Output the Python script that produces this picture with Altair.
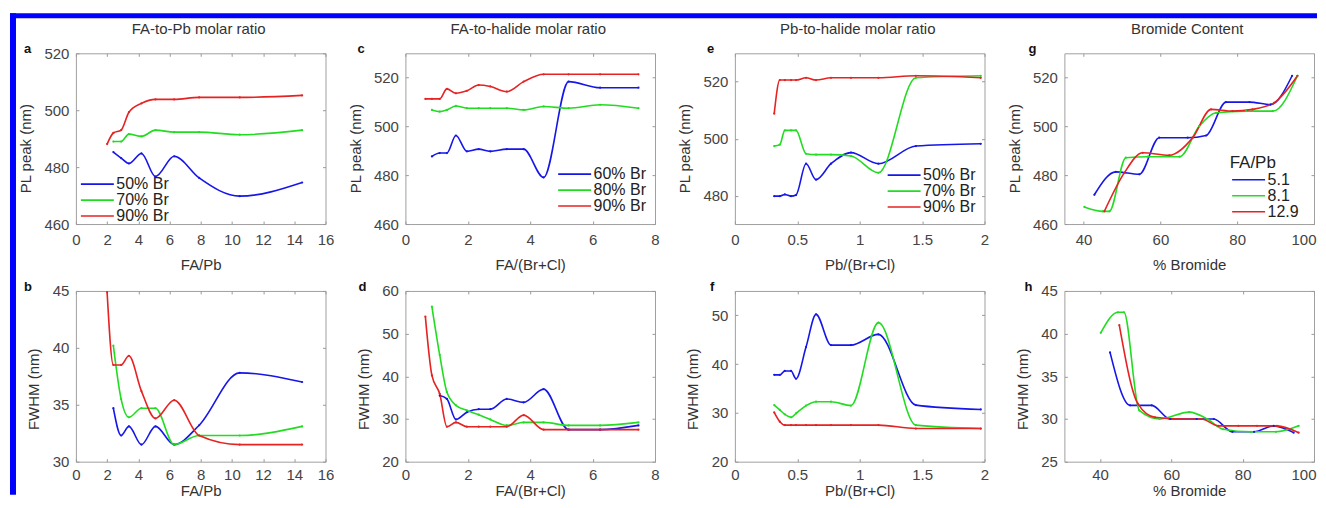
import altair as alt
import pandas as pd

FONT = "Liberation Sans"
BLUE, GREEN, RED = "#1616e8", "#22dc22", "#e62222"
W, H = 250, 171

# ---- Panels a / b : FA/Pb ----
ab_x_red = [2.0, 2.4, 2.9, 3.4, 4.2, 5.1, 6.3, 7.9, 10.5, 14.5]
ab_x = [2.4, 2.9, 3.4, 4.2, 5.1, 6.3, 7.9, 10.5, 14.5]
a_pl_50 = [485.3, 483.2, 481.3, 484.8, 476.7, 483.8, 476.2, 469.8, 474.6]
a_pl_70 = [489.0, 489.0, 491.6, 490.8, 493.0, 492.3, 492.3, 491.4, 493.0]
a_pl_90 = [488.1, 492.0, 493.0, 499.3, 502.4, 503.8, 503.8, 504.5, 504.5, 505.2]
b_fw_50 = [34.7, 32.3, 33.1, 31.5, 33.1, 31.5, 33.2, 37.8, 37.0]
b_fw_70 = [40.2, 35.5, 33.9, 34.7, 34.7, 31.5, 32.3, 32.3, 33.1]
b_fw_90 = [44.9, 38.5, 38.5, 39.3, 36.2, 33.8, 35.4, 32.3, 31.5, 31.5]

# ---- Panels c / d : FA/(Br+Cl) ----
cd_x_red = [0.64, 0.85, 1.1, 1.33, 1.62, 1.97, 2.35, 2.72, 3.25, 3.79, 4.43, 5.23, 6.24, 7.47]
cd_x = [0.85, 1.1, 1.33, 1.62, 1.97, 2.35, 2.72, 3.25, 3.79, 4.43, 5.23, 6.24, 7.47]
d_x_60 = [1.1, 1.33, 1.62, 1.97, 2.35, 2.72, 3.25, 3.79, 4.43, 5.23, 6.24, 7.47]
c_pl_60 = [487.7, 489.1, 489.1, 496.3, 489.8, 490.7, 489.8, 490.7, 490.7, 479.1, 518.4, 515.9, 515.9]
c_pl_80 = [506.8, 506.1, 506.8, 508.4, 507.5, 507.5, 507.5, 507.5, 506.8, 508.2, 507.5, 508.9, 507.5]
c_pl_90 = [511.3, 511.3, 511.3, 515.4, 513.6, 514.6, 517.0, 516.4, 514.3, 518.4, 521.4, 521.4, 521.4, 521.4]
d_fw_60 = [35.5, 34.7, 29.9, 31.6, 32.3, 32.3, 34.7, 33.9, 37.0, 27.5, 27.5, 28.5]
d_fw_80 = [56.3, 45.0, 36.3, 33.2, 32.0, 31.0, 29.9, 28.5, 29.2, 29.2, 28.5, 28.5, 29.2]
d_fw_90 = [54.0, 40.2, 35.9, 28.2, 29.2, 28.2, 28.2, 28.2, 28.2, 30.9, 27.5, 27.5, 27.5, 27.5]

# ---- Panels e / f : Pb/(Br+Cl) ----
ef_x = [0.315, 0.36, 0.4, 0.45, 0.49, 0.57, 0.65, 0.77, 0.93, 1.15, 1.45, 1.97]
e_pl_50 = [479.8, 479.8, 480.4, 479.8, 480.2, 491.2, 485.6, 491.2, 495.1, 491.2, 497.4, 498.2]
e_pl_70 = [497.4, 497.9, 502.9, 502.9, 502.9, 494.7, 494.4, 494.4, 493.9, 488.0, 521.4, 522.1]
e_pl_90 = [508.8, 520.6, 520.6, 520.6, 520.6, 521.4, 520.6, 521.4, 521.4, 521.4, 522.1, 521.4]
f_fw_50 = [37.8, 37.8, 38.6, 38.6, 37.0, 43.5, 50.2, 43.9, 43.9, 46.1, 31.6, 30.7]
f_fw_70 = [31.6, 30.6, 29.7, 29.1, 29.9, 31.5, 32.3, 32.3, 31.5, 48.5, 27.5, 26.8]
f_fw_90 = [30.1, 28.2, 27.5, 27.5, 27.5, 27.5, 27.5, 27.5, 27.5, 27.5, 26.8, 26.8]

# ---- Panels g / h : % Bromide ----
gh_x_51 = [42.8, 48.4, 54.5, 59.7, 67.1, 71.9, 77.1, 83.2, 88.7, 94.3]
gh_x_81 = [40.2, 45.0, 46.7, 51.0, 56.7, 65.0, 70.1, 74.5, 82.3, 89.3, 95.7]
gh_x_129 = [45.4, 50.6, 55.4, 62.3, 68.4, 73.2, 78.8, 84.0, 89.6, 95.7]
g_pl_51 = [472.0, 481.4, 480.4, 495.4, 495.4, 496.3, 510.0, 510.0, 509.0, 520.8]
g_pl_81 = [467.0, 465.2, 465.2, 487.2, 487.6, 487.6, 500.1, 505.6, 506.3, 506.3, 520.8]
g_pl_129 = [465.2, 481.0, 489.2, 488.2, 495.4, 507.0, 506.3, 507.0, 509.7, 520.8]
h_fw_51 = [37.8, 31.6, 31.6, 30.0, 30.0, 30.0, 28.5, 28.5, 29.2, 28.4]
h_fw_81 = [40.1, 42.5, 42.5, 31.0, 30.0, 30.8, 30.0, 28.8, 28.5, 28.5, 29.2]
h_fw_129 = [41.0, 31.8, 30.2, 30.0, 30.0, 29.2, 29.2, 29.2, 29.2, 28.4]

names_a = ["50% Br", "70% Br", "90% Br"]
names_c = ["60% Br", "80% Br", "90% Br"]
names_g = ["5.1", "8.1", "12.9"]
colors = [BLUE, GREEN, RED]

headers = ["FA-to-Pb molar ratio", "FA-to-halide molar ratio",
           "Pb-to-halide molar ratio", "Bromide Content"]


def make_df(series):
    rows = []
    for name, xs, ys in series:
        for xv, yv in zip(xs, ys):
            rows.append({"x": xv, "y": yv, "s": name})
    return pd.DataFrame(rows)


def text_layer(txt, dx, dy, size, weight, align, color):
    return alt.Chart(pd.DataFrame({"t": [txt]})).mark_text(
        fontSize=size, fontWeight=weight, align=align, baseline="alphabetic",
        color=color, font=FONT
    ).encode(text="t:N", x=alt.value(dx), y=alt.value(dy))


def make_legend(lx, ly, title=None):
    kw = dict(orient="none", legendX=lx, legendY=ly, symbolType="M-1,0H5",
              symbolSize=121, symbolStrokeWidth=1.6, labelFontSize=16,
              labelOffset=22, rowPadding=0, padding=0,
              labelColor="#222222", labelFont=FONT)
    if title is None:
        kw["title"] = None
    else:
        kw.update(title=title, titleFontSize=17, titleFontWeight="normal",
                  titlePadding=0, titleColor="#222222", titleFont=FONT)
    return alt.Legend(**kw)


def panel(series, names, xdom, xticks, ydom, yticks, xtitle, ytitle,
          letter, letter_dx, top, header=None, legend=None, frame=False,
          xfmt=None, flush_end=False):
    df = make_df(series)
    base = alt.Chart(df)
    xkw = dict(values=xticks, title=xtitle, titleY=41 if top else 29,
               labelPadding=8 if top else 6)
    if xfmt:
        xkw["format"] = xfmt
    if flush_end:
        xkw.update(labelFlush=1, labelFlushOffset=2)
    xaxis = alt.Axis(**xkw)
    yaxis = alt.Axis(values=yticks, title=ytitle,
                     titleX=-50 if top else -42, titleY=95 if top else 98)
    x = alt.X("x:Q", scale=alt.Scale(domain=xdom, nice=False, zero=False), axis=xaxis)
    y = alt.Y("y:Q", scale=alt.Scale(domain=ydom, nice=False, zero=False), axis=yaxis)
    cscale = alt.Scale(domain=names, range=colors)
    line = base.mark_line(interpolate="monotone", strokeWidth=1.6).encode(
        x=x, y=y,
        color=alt.Color("s:N", scale=cscale, sort=names,
                        legend=legend if legend is not None else None))
    pts = base.mark_circle(size=5, opacity=1).encode(
        x=x, y=y, color=alt.Color("s:N", scale=cscale, sort=names, legend=None))
    layers = [line, pts,
              text_layer(letter, letter_dx, 0, 13, "bold", "left", "#111111")]
    if header:
        layers.append(text_layer(header, W / 2 - 2, -19, 15, "normal", "center", "#333333"))
    if frame:
        one = pd.DataFrame({"k": [0]})
        layers.append(alt.Chart(one).mark_rect(color="#0000ff").encode(
            x=alt.value(-66), x2=alt.value(1243), y=alt.value(-40), y2=alt.value(-35)))
        layers.append(alt.Chart(one).mark_rect(color="#0000ff").encode(
            x=alt.value(-66), x2=alt.value(-60), y=alt.value(-40), y2=alt.value(442)))
    return alt.layer(*layers).properties(width=W, height=H)


pa = panel([(names_a[0], ab_x, a_pl_50), (names_a[1], ab_x, a_pl_70), (names_a[2], ab_x_red, a_pl_90)],
           names_a, [0, 16], list(range(0, 17, 2)), [460, 520], [460, 480, 500, 520],
           "FA/Pb", "PL peak (nm)", "a", -52, True, headers[0],
           legend=make_legend(2.5, 123), frame=True)
pb = panel([(names_a[0], ab_x, b_fw_50), (names_a[1], ab_x, b_fw_70), (names_a[2], ab_x_red, b_fw_90)],
           names_a, [0, 16], list(range(0, 17, 2)), [30, 45], [30, 35, 40, 45],
           "FA/Pb", "FWHM (nm)", "b", -52, False)
pc = panel([(names_c[0], cd_x, c_pl_60), (names_c[1], cd_x, c_pl_80), (names_c[2], cd_x_red, c_pl_90)],
           names_c, [0, 8], [0, 2, 4, 6, 8], [460, 530], [460, 480, 500, 520],
           "FA/(Br+Cl)", "PL peak (nm)", "c", -48, True, headers[1],
           legend=make_legend(150.5, 113))
pd_ = panel([(names_c[0], d_x_60, d_fw_60), (names_c[1], cd_x, d_fw_80), (names_c[2], cd_x_red, d_fw_90)],
            names_c, [0, 8], [0, 2, 4, 6, 8], [20, 60], [20, 30, 40, 50, 60],
            "FA/(Br+Cl)", "FWHM (nm)", "d", -47, False)
pe = panel([(names_a[0], ef_x, e_pl_50), (names_a[1], ef_x, e_pl_70), (names_a[2], ef_x, e_pl_90)],
           names_a, [0, 2], [0, 0.5, 1, 1.5, 2], [470, 530], [480, 500, 520],
           "Pb/(Br+Cl)", "PL peak (nm)", "e", -28, True, headers[2],
           legend=make_legend(150.5, 114), xfmt=".1~f")
pf = panel([(names_a[0], ef_x, f_fw_50), (names_a[1], ef_x, f_fw_70), (names_a[2], ef_x, f_fw_90)],
           names_a, [0, 2], [0, 0.5, 1, 1.5, 2], [20, 55], [20, 30, 40, 50],
           "Pb/(Br+Cl)", "FWHM (nm)", "f", -25, False, xfmt=".1~f")
pg = panel([(names_g[0], gh_x_51, g_pl_51), (names_g[1], gh_x_81, g_pl_81), (names_g[2], gh_x_129, g_pl_129)],
           names_g, [35, 100], [40, 60, 80, 100], [460, 530], [460, 480, 500, 520],
           "% Bromide", "PL peak (nm)", "g", -36, True, headers[3],
           legend=make_legend(165.5, 101.7, title="FA/Pb"), flush_end=True)
ph = panel([(names_g[0], gh_x_51, h_fw_51), (names_g[1], gh_x_81, h_fw_81), (names_g[2], gh_x_129, h_fw_129)],
           names_g, [30, 100], [40, 60, 80, 100], [25, 45], [25, 30, 35, 40, 45],
           "% Bromide", "FWHM (nm)", "h", -40, False, flush_end=True)

chart = alt.concat(pa, pc, pe, pg, pb, pd_, pf, ph, columns=4,
                   spacing={"row": 67, "column": 80}, bounds="flush").resolve_scale(
    x="independent", y="independent", color="independent"
).resolve_legend(color="independent").properties(
    padding={"left": 1, "top": 4, "right": 0, "bottom": -1.5}
).configure(font=FONT).configure_view(
    stroke="#a0a0a0", strokeWidth=1
).configure_axis(
    domain=False, ticks=False, grid=True, gridColor="#9a9a9a", gridWidth=1,
    labelFont=FONT, labelFontSize=15, labelColor="#444444",
    titleFont=FONT, titleFontSize=15, titleFontWeight="normal", titleColor="#333333",
    titleBaseline="middle", labelOverlap=False
).configure_axisX(
    labelFlush=False, gridDash=[3, 165, 3, 2000]
).configure_axisY(
    labelPadding=7, gridDash=[3, 244, 3, 2000]
)

chart.save("out.html", embed_options={"renderer": "svg", "actions": False})
